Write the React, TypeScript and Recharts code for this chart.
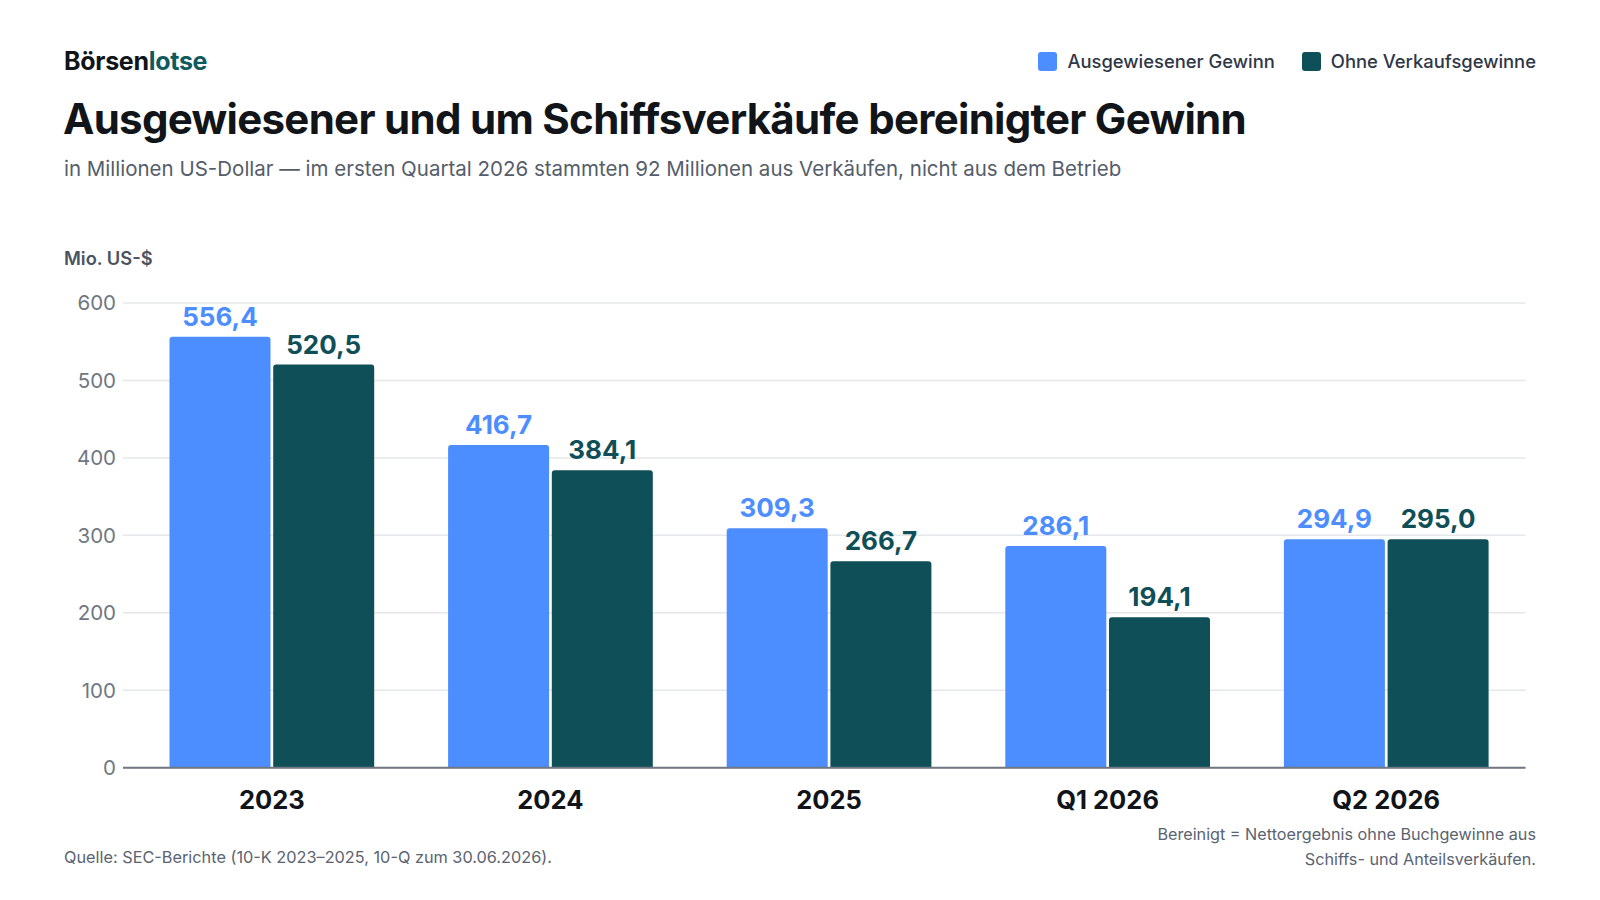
import React from "react";
import { BarChart, Bar, XAxis, YAxis, CartesianGrid, LabelList } from "recharts";

const BLUE = "#4c8dff";
const TEAL = "#0f4f57";
const FONT = "Inter, 'Noto Sans', sans-serif";

const categories = ["2023", "2024", "2025", "Q1 2026", "Q2 2026"];
const reported = [556.4, 416.7, 309.3, 286.1, 294.9];
const adjusted = [520.5, 384.1, 266.7, 194.1, 295.0];
const yTicks = [0, 100, 200, 300, 400, 500, 600];

const data = categories.map((name, i) => ({
  name,
  reported: reported[i],
  adjusted: adjusted[i],
}));

const fmt = (v: number) => v.toFixed(1).replace(".", ",");

function LegendItem({ color, label }: { color: string; label: string }) {
  return (
    <div style={{ display: "flex", alignItems: "center", gap: 10 }}>
      <div style={{ width: 19, height: 19, borderRadius: 3, background: color }} />
      <span style={{ fontSize: 18.4, color: "#2f3747", fontWeight: 500 }}>{label}</span>
    </div>
  );
}

export default function App() {
  return (
    <div
      style={{
        position: "fixed",
        left: 0,
        top: 0,
        width: 1600,
        height: 900,
        background: "#fff",
        fontFamily: FONT,
        overflow: "hidden",
      }}
    >
      <div
        style={{
          position: "absolute",
          left: 64,
          top: 46,
          fontSize: 25,
          fontWeight: 700,
          color: "#111418",
          letterSpacing: -0.3,
        }}
      >
        Börsen<span style={{ color: "#0f5a5c" }}>lotse</span>
      </div>
      <div
        style={{
          position: "absolute",
          right: 64,
          top: 50,
          display: "flex",
          gap: 27,
        }}
      >
        <LegendItem color={BLUE} label="Ausgewiesener Gewinn" />
        <LegendItem color={TEAL} label="Ohne Verkaufsgewinne" />
      </div>
      <div
        style={{
          position: "absolute",
          left: 63,
          top: 93,
          fontSize: 42,
          fontWeight: 700,
          color: "#111418",
          letterSpacing: -0.7,
        }}
      >
        Ausgewiesener und um Schiffsverkäufe bereinigter Gewinn
      </div>
      <div
        style={{
          position: "absolute",
          left: 64,
          top: 156,
          fontSize: 20.5,
          color: "#555d6a",
        }}
      >
        in Millionen US-Dollar — im ersten Quartal 2026 stammten 92 Millionen aus Verkäufen, nicht aus dem Betrieb
      </div>
      <div
        style={{
          position: "absolute",
          left: 64,
          top: 247,
          fontSize: 18.3,
          fontWeight: 600,
          color: "#4b5361",
        }}
      >
        Mio. US-$
      </div>

      <div style={{ position: "absolute", left: 0, top: 0 }}>
        <BarChart
          width={1600}
          height={900}
          data={data}
          margin={{ top: 303, right: 74.5, bottom: 82.3, left: 63 }}
          barCategoryGap={37}
          barGap={2.7}
        >
          <CartesianGrid vertical={false} stroke="#e6e7ea" strokeWidth={1.5} />
          <XAxis
            dataKey="name"
            height={50}
            padding={{ left: 9.5, right: 0 }}
            tickLine={false}
            axisLine={{ stroke: "#6f7782", strokeWidth: 2 }}
            tick={{ fontSize: 25.5, fontWeight: 700, fill: "#111418", fontFamily: FONT }}
            tickMargin={17}
          />
          <YAxis
            width={60}
            domain={[0, 600]}
            ticks={yTicks}
            tickLine={false}
            axisLine={false}
            tick={{ fontSize: 20.5, fill: "#6f7782", fontFamily: FONT }}
            tickMargin={1}
          />
          <Bar
            dataKey="reported"
            fill={BLUE}
            radius={[3, 3, 0, 0]}
            isAnimationActive={false}
          >
            <LabelList
              dataKey="reported"
              position="top"
              offset={11}
              formatter={(v: any) => fmt(Number(v))}
              style={{ fontSize: 26, fontWeight: 700, fill: BLUE, fontFamily: FONT }}
            />
          </Bar>
          <Bar
            dataKey="adjusted"
            fill={TEAL}
            radius={[3, 3, 0, 0]}
            isAnimationActive={false}
          >
            <LabelList
              dataKey="adjusted"
              position="top"
              offset={11}
              formatter={(v: any) => fmt(Number(v))}
              style={{ fontSize: 26, fontWeight: 700, fill: TEAL, fontFamily: FONT }}
            />
          </Bar>
        </BarChart>
      </div>

      <div
        style={{
          position: "absolute",
          left: 64,
          top: 847,
          fontSize: 16.3,
          color: "#5b6370",
        }}
      >
        Quelle: SEC-Berichte (10-K 2023–2025, 10-Q zum 30.06.2026).
      </div>
      <div
        style={{
          position: "absolute",
          right: 64,
          top: 822,
          fontSize: 16.2,
          lineHeight: "24.5px",
          color: "#5b6370",
          textAlign: "right",
        }}
      >
        Bereinigt = Nettoergebnis ohne Buchgewinne aus
        <br />
        Schiffs- und Anteilsverkäufen.
      </div>
    </div>
  );
}
